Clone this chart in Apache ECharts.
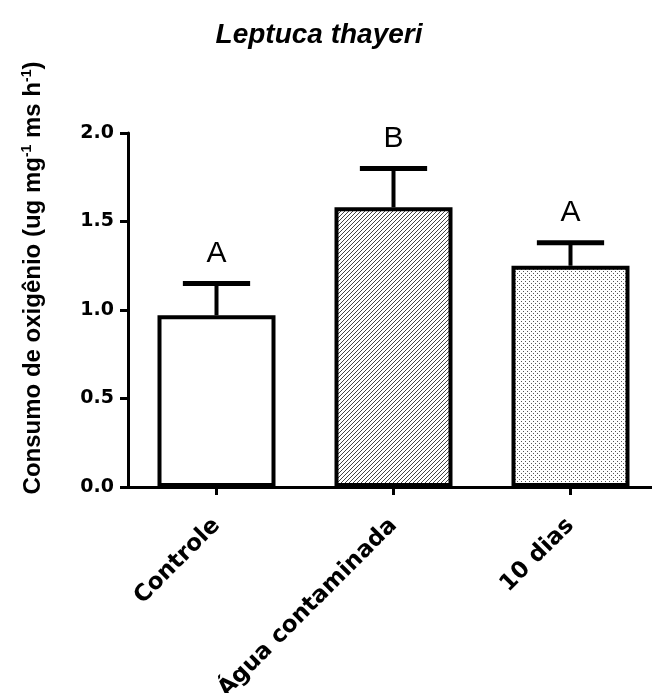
<!DOCTYPE html>
<html>
<head>
<meta charset="utf-8">
<script src="https://cdn.jsdelivr.net/npm/echarts@6/dist/echarts.min.js"></script>
<style>html,body{margin:0;padding:0;background:#fff}#c{width:652px;height:693px}</style>
</head>
<body>
<div id="c"></div>
<script>
const categories = ['Controle', 'Água contaminada', '10 dias'];
const means = [0.97, 1.58, 1.25];
const errors = [0.18, 0.22, 0.13];
const letters = ['A', 'B', 'A'];
const yTicks = [0, 0.5, 1.0, 1.5, 2.0];

function makePattern(kind) {
  const cv = document.createElement('canvas');
  cv.width = 4; cv.height = 4;
  const ctx = cv.getContext('2d');
  ctx.fillStyle = '#fff';
  ctx.fillRect(0, 0, 4, 4);
  if (kind === 'hatch') {
    ctx.fillStyle = '#444';
    ctx.fillRect(3, 0, 1, 1); ctx.fillRect(2, 1, 1, 1);
    ctx.fillRect(1, 2, 1, 1); ctx.fillRect(0, 3, 1, 1);
  } else if (kind === 'dots') {
    ctx.fillStyle = '#555';
    ctx.fillRect(1, 1, 1, 1); ctx.fillRect(3, 3, 1, 1);
  }
  return cv;
}
const fills = ['#ffffff', { image: makePattern('hatch'), repeat: 'repeat' }, { image: makePattern('dots'), repeat: 'repeat' }];

const chart = echarts.init(document.getElementById('c'), null, { renderer: 'canvas' });
const boldFont = 'DejaVu Sans';
chart.setOption({
  animation: false,
  backgroundColor: '#fff',
  title: {
    text: 'Leptuca thayeri', left: 314, top: 16, textAlign: 'center',
    textStyle: { fontFamily: 'Arial, Liberation Sans, sans-serif', fontSize: 28, fontWeight: 'bold', fontStyle: 'italic', color: '#000' }
  },
  graphic: [{
    type: 'text', x: 33, y: 278, rotation: Math.PI / 2,
    style: {
      text: 'Consumo de oxigênio (ug mg{sup|-1} ms h{sup|-1})',
      font: 'bold 24px Arial, Liberation Sans, sans-serif',
      fill: '#000', align: 'center', verticalAlign: 'middle',
      rich: { sup: { fontSize: 14, fontWeight: 'bold', fontFamily: 'Arial, Liberation Sans, sans-serif', padding: [0, 0, 12, 0], verticalAlign: 'bottom' } }
    }
  }],
  grid: { left: 128, top: 133, width: 531, bottom: 206, containLabel: false, outerBoundsMode: 'none' },
  xAxis: {
    type: 'category', data: categories,
    axisLine: { lineStyle: { color: '#000', width: 3 } },
    axisTick: { show: true, alignWithLabel: true, length: 8, lineStyle: { color: '#000', width: 3 } },
    axisLabel: { rotate: 45, margin: 35, verticalAlign: 'middle', fontFamily: boldFont, fontWeight: 'bold', fontSize: 23, color: '#000', interval: 0 }
  },
  yAxis: {
    type: 'value', min: 0, max: 2, interval: 0.5,
    axisLine: { show: true, lineStyle: { color: '#000', width: 3 } },
    axisTick: { show: true, length: 8, lineStyle: { color: '#000', width: 3 } },
    splitLine: { show: false },
    axisLabel: { formatter: v => v.toFixed(1), margin: 14, fontFamily: boldFont, fontWeight: 'bold', fontSize: 19, color: '#000' }
  },
  series: [{
    type: 'bar', barWidth: 118,
    data: means.map((m, i) => ({ value: m, itemStyle: { color: fills[i], borderColor: '#000', borderWidth: 4 } })),
    z: 2
  }, {
    type: 'custom', z: 3,
    data: means.map((m, i) => [i, m, errors[i]]),
    renderItem: function (params, api) {
      const idx = params.dataIndex;
      const m = api.value(1), e = api.value(2);
      const base = api.coord([api.value(0), m]);
      const top = api.coord([api.value(0), m + e]);
      const half = api.size([1, 0])[0] * 0.19;
      return {
        type: 'group', children: [
          { type: 'line', shape: { x1: base[0], y1: base[1], x2: top[0], y2: top[1] }, style: { stroke: '#000', lineWidth: 4 } },
          { type: 'line', shape: { x1: top[0] - half, y1: top[1], x2: top[0] + half, y2: top[1] }, style: { stroke: '#000', lineWidth: 5 } },
          { type: 'text', x: top[0], y: top[1] - 30, style: { text: letters[idx], font: '30px Arial, Liberation Sans, sans-serif', fill: '#000', align: 'center', verticalAlign: 'middle' } }
        ]
      };
    }
  }]
});
</script>
</body>
</html>
